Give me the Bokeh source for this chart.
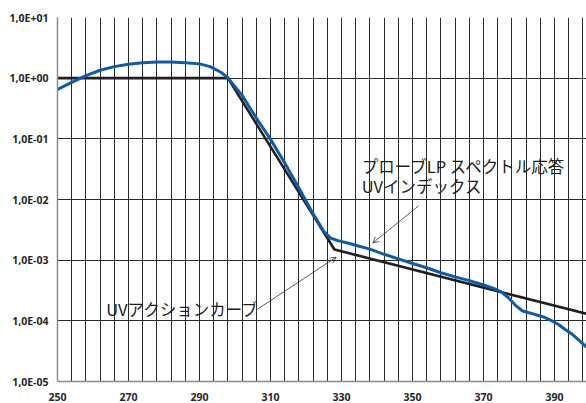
from bokeh.plotting import figure
from bokeh.models import Range1d, FixedTicker, CustomJSTickFormatter, Arrow, OpenHead, Label
from bokeh.embed import file_html
from bokeh.resources import INLINE

# ---- data ----
probe_wl = [250, 254, 258, 262, 266, 270, 274, 278, 282, 286, 290, 293, 296, 298,
            300, 302, 306, 310, 314, 318, 322, 325, 327, 329, 332, 335, 338, 342,
            346, 350, 354, 358, 362, 366, 370, 373, 375, 377, 379, 381, 383, 385,
            387, 389, 391, 393, 395, 397, 399]
probe_val = [0.65, 0.85, 1.10, 1.35, 1.55, 1.70, 1.80, 1.85, 1.84, 1.79, 1.72, 1.55, 1.25, 1.02,
             0.72, 0.52, 0.22, 0.098, 0.040, 0.0155, 0.0058, 0.0030, 0.0023, 0.0021, 0.0019,
             0.0017, 0.00152, 0.00125, 0.00105, 0.00088, 0.00075, 0.00062, 0.00053, 0.00046,
             0.00039, 0.00034, 0.00030, 0.00024, 0.00018, 0.000145, 0.000135, 0.000125,
             0.000115, 0.000102, 0.000088, 0.000072, 0.000060, 0.000047, 0.000037]

action_wl = [250, 298, 328, 400]
action_val = [1.0, 1.0, 0.0015, 0.000126]

x_ticks = [250, 270, 290, 310, 330, 350, 370, 390]
x_grid = list(range(250, 400, 4))
y_ticks = [1e-5, 1e-4, 1e-3, 1e-2, 1e-1, 1e0, 1e1]
y_labels = ["1,0E-05", "1,0E-04", "1,0E-03", "1,0E-02", "1,0E-01", "1,0E+00", "1,0E+01"]

label_action = "UVアクションカーブ"
label_probe_1 = "プローブLP スペクトル応答"
label_probe_2 = "UVインデックス"

# ---- figure ----
p = figure(width=586, height=403, y_axis_type="log",
           x_range=Range1d(250, 399), y_range=Range1d(1e-5, 10),
           output_backend="svg", toolbar_location=None,
           min_border_left=57, min_border_right=0, min_border_top=17, min_border_bottom=20)
p.outline_line_color = None
p.background_fill_color = "white"

grid_col = "#2a2a2a"
p.xgrid.ticker = FixedTicker(ticks=x_grid)
p.xgrid.grid_line_color = grid_col
p.xgrid.grid_line_width = 1
p.ygrid.ticker = FixedTicker(ticks=y_ticks)
p.ygrid.grid_line_color = grid_col
p.ygrid.grid_line_width = 1

p.xaxis.ticker = FixedTicker(ticks=x_ticks)
p.yaxis.ticker = FixedTicker(ticks=y_ticks)
p.yaxis.formatter = CustomJSTickFormatter(args=dict(yt=y_ticks, yl=y_labels), code="""
    let best = 0, bd = 1e9;
    for (let i = 0; i < yt.length; i++) {
        const d = Math.abs(Math.log10(yt[i]) - Math.log10(tick));
        if (d < bd) { bd = d; best = i; }
    }
    return yl[best];
""")
for ax in (p.xaxis, p.yaxis):
    ax.axis_line_color = "#8a8a8a"
    ax.axis_line_width = 1.5
    ax.major_tick_line_color = None
    ax.minor_tick_line_color = None
    ax.major_label_text_font = "Open Sans"
    ax.major_label_text_font_style = "bold"
    ax.major_label_text_font_size = "10.5px"
    ax.major_label_text_color = "#262626"
p.yaxis.major_label_standoff = 3
p.xaxis.major_label_standoff = 5

p.line(action_wl, action_val, line_color="#231F20", line_width=2.6)
p.line(probe_wl, probe_val, line_color="#0B5CAB", line_width=3)

font = "Noto Sans CJK JP"
fs = "16.5px"
p.add_layout(Label(x=263.7, y=1.59e-4, text=label_action, text_font=font,
                   text_font_size=fs, text_color="#231F20", text_baseline="middle"))
p.add_layout(Label(x=335.7, y=3.55e-2, text=label_probe_1, text_font=font,
                   text_font_size=fs, text_color="#231F20", text_baseline="middle"))
p.add_layout(Label(x=335.7, y=1.66e-2, text=label_probe_2, text_font=font,
                   text_font_size=fs, text_color="#231F20", text_baseline="middle"))

p.add_layout(Arrow(x_start=306.3, y_start=1.55e-4, x_end=328.5, y_end=1.12e-3,
                   line_color="#333333", line_width=0.8,
                   end=OpenHead(size=6, line_color="#333333", line_width=0.8)))
p.add_layout(Arrow(x_start=351.7, y_start=7.85e-3, x_end=338.8, y_end=1.92e-3,
                   line_color="#333333", line_width=0.8,
                   end=OpenHead(size=6, line_color="#333333", line_width=0.8)))

open("out.html", "w").write(file_html(p, INLINE))
